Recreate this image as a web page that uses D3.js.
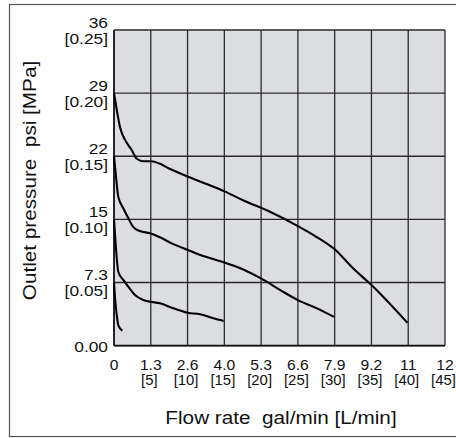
<!DOCTYPE html>
<html><head><meta charset="utf-8">
<script src="https://cdn.jsdelivr.net/npm/d3@7"></script>
<style>body{margin:0;background:#fff}svg{display:block}text{font-family:"Liberation Sans",Arial,Helvetica,sans-serif;fill:#111}</style>
</head><body><svg id="c" width="456" height="438"></svg>
<script>
// Flow rate ticks (L/min) and their gal/min labels
const flowTicksL = [0,5,10,15,20,25,30,35,40,45];
const flowTicksGal = ["0","1.3","2.6","4.0","5.3","6.6","7.9","9.2","11","12"];
// Pressure ticks (MPa) and their psi labels
const presTicksMPa = [0,0.05,0.10,0.15,0.20,0.25];
const presTicksPsi = ["0.00","7.3","15","22","29","36"];
const presTicksMPaLabel = ["","[0.05]","[0.10]","[0.15]","[0.20]","[0.25]"];

// Curves: flow (L/min) vs outlet pressure (MPa), one per set pressure
const curve020Flow = [0,0.37,0.82,1.5,2.4,3.1,4.0,5.1,6.25,7.4,10,12.6,15.1,17.6,21.2,25,27.3,30,32.5,35,39.9];
const curve020Pres = [0.200,0.187,0.173,0.163,0.155,0.148,0.146,0.146,0.144,0.1405,0.134,0.128,0.122,0.115,0.106,0.0947,0.087,0.0763,0.0612,0.048,0.018];
const curve015Flow = [0,0.27,0.58,1.26,1.94,2.6,3.5,4.9,6.25,7.85,10.05,11.1,12.8,15.1,17.1,20.1,22.6,25,27.6,29.9];
const curve015Pres = [0.150,0.134,0.118,0.1088,0.101,0.094,0.0908,0.089,0.0858,0.081,0.0757,0.0732,0.0698,0.0657,0.0615,0.0528,0.044,0.036,0.0295,0.0227];
const curve010Flow = [0,0.27,0.58,1.26,1.94,2.85,4.0,4.9,6.25,8.06,10.0,11.7,13.5,14.9];
const curve010Pres = [0.100,0.077,0.0585,0.052,0.0467,0.040,0.0361,0.0348,0.0335,0.0295,0.026,0.0248,0.0216,0.0195];
const curve005Flow = [0,0.14,0.37,0.58,1.13];
const curve005Pres = [0.050,0.0375,0.0242,0.0163,0.0118];

const svg = d3.select("#c");
const x = d3.scaleLinear([0,45],[114,445]);
const y = d3.scaleLinear([0,0.25],[345.6,30]);
const SX = 1.12; // horizontal glyph stretch seen in reference

// outer frame
svg.append("rect").attr("x",9.5).attr("y",4.5).attr("width",470).attr("height",432)
  .attr("fill","none").attr("stroke","#555").attr("stroke-width",1.2);

// plot background
svg.append("rect").attr("x",x(0)).attr("y",y(0.25)).attr("width",x(45)-x(0)).attr("height",y(0)-y(0.25))
  .attr("fill","#dcdde0");

// grid
const g = svg.append("g").attr("stroke","#2a2a2a").attr("stroke-width",1.3);
flowTicksL.forEach(v=>g.append("line").attr("x1",x(v)).attr("x2",x(v)).attr("y1",y(0)).attr("y2",y(0.25)));
presTicksMPa.forEach(v=>g.append("line").attr("x1",x(0)).attr("x2",x(45)).attr("y1",y(v)).attr("y2",y(v)));
// axes lines
svg.append("line").attr("x1",x(0)).attr("x2",x(0)).attr("y1",y(0)).attr("y2",y(0.25)).attr("stroke","#111").attr("stroke-width",1.6);
svg.append("line").attr("x1",x(0)).attr("x2",x(45)).attr("y1",y(0)).attr("y2",y(0)).attr("stroke","#111").attr("stroke-width",1.6);

function txt(px,py,s,size,anchor,sx){
  svg.append("text").attr("transform",`translate(${px},${py}) scale(${sx||SX},1)`)
    .attr("text-anchor",anchor).attr("font-size",size).text(s);
}

// x tick labels
flowTicksL.forEach((v,i)=>{
  txt(x(v),369.5,flowTicksGal[i],14.5,"middle",1.08);
  if(i>0) txt(x(v)-1.5,384.5,"["+v+"]",13.8,"middle",1.08);
});
// y tick labels
presTicksMPa.forEach((v,i)=>{
  if(i===0){ txt(108,351.5,presTicksPsi[i],15.5,"end"); return; }
  txt(108,y(v)-2,presTicksPsi[i],15.5,"end");
  txt(108,y(v)+13.8,presTicksMPaLabel[i],15.5,"end");
});

// titles
svg.append("text").attr("transform",`translate(281,424) scale(${SX},1)`).attr("text-anchor","middle")
  .attr("font-size",18.5).attr("xml:space","preserve").text("Flow rate  gal/min [L/min]");
svg.append("text").attr("transform",`translate(35.5,180.5) rotate(-90) scale(${SX},1)`).attr("text-anchor","middle")
  .attr("font-size",18.5).attr("xml:space","preserve").text("Outlet pressure  psi [MPa]");

// curves
const line = d3.line().x(d=>x(d[0])).y(d=>y(d[1])).curve(d3.curveMonotoneX);
[[curve020Flow,curve020Pres],[curve015Flow,curve015Pres],[curve010Flow,curve010Pres],[curve005Flow,curve005Pres]]
  .forEach(([f,p])=>{
    svg.append("path").attr("d",line(f.map((v,i)=>[v,p[i]]))).attr("fill","none")
      .attr("stroke","#000").attr("stroke-width",2.1).attr("stroke-linejoin","round");
  });
</script></body></html>
